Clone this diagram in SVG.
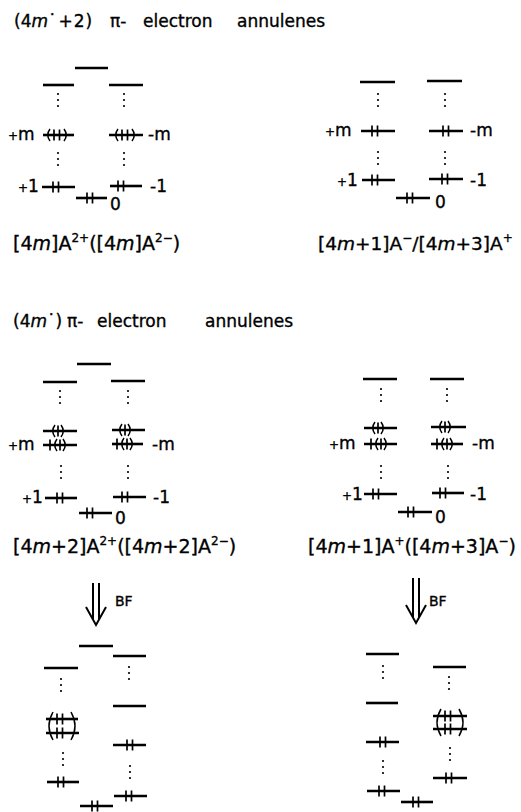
<svg xmlns="http://www.w3.org/2000/svg" xmlns:xlink="http://www.w3.org/1999/xlink" width="521" height="812" viewBox="0 0 521 812">
<style>
.lv{stroke:#000;stroke-width:2.6;fill:none}
.tk{stroke:#000;stroke-width:1.7;fill:none}
.pr{stroke:#000;stroke-width:1.5;fill:none}
.dt{fill:#000}
.ar{stroke:#000;stroke-width:2;fill:none}
text{font-family:"DejaVu Sans","Liberation Sans",sans-serif;fill:#000;stroke:#000;stroke-width:0.35}
.hd{font-size:17px}
.lb{font-size:19px}
.lb2{font-size:18.5px}
.sm{font-size:17px}
.i{font-style:italic}
.sup{font-size:12px}
.pl{font-size:12px}
.bf{font-size:14px}
</style>
<defs>
<line id="t" class="tk" x1="0" y1="-5.5" x2="0" y2="5.5"/>
<g id="p2"><use xlink:href="#t" x="0"/><use xlink:href="#t" x="5.5"/></g>
<path id="lp" class="pr" d="M2,-6 Q-2.5,0 2,6"/>
<path id="rp" class="pr" d="M-2,-6 Q2.5,0 -2,6"/>
<g id="d3" class="dt"><circle cx="0" cy="0" r="1.1"/><circle cx="0" cy="6" r="1.1"/><circle cx="0" cy="12" r="1.1"/></g>
</defs>
<rect width="521" height="812" fill="#fff"/>

<g id="header1">
<text class="hd" y="27"><tspan x="14">(4</tspan><tspan class="i">m</tspan><tspan>˙</tspan><tspan dx="2">+</tspan><tspan dx="1">2</tspan><tspan dx="1">)</tspan><tspan x="110">π-</tspan><tspan x="143">electron</tspan><tspan x="237">annulenes</tspan></text>
</g>

<g id="diagram-top-left">
<line class="lv" x1="75" y1="68" x2="108" y2="68"/>
<line class="lv" x1="43" y1="85" x2="74" y2="85"/>
<line class="lv" x1="109" y1="85" x2="143" y2="85"/>
<use xlink:href="#d3" x="58" y="94"/>
<use xlink:href="#d3" x="124" y="94"/>
<line class="lv" x1="43" y1="135" x2="74" y2="135"/>
<use xlink:href="#lp" x="48" y="135"/><use xlink:href="#p2" x="54" y="135"/><use xlink:href="#rp" x="66" y="135"/>
<line class="lv" x1="109" y1="135" x2="143" y2="135"/>
<use xlink:href="#lp" x="116" y="135"/><use xlink:href="#p2" x="122" y="135"/><use xlink:href="#rp" x="134" y="135"/>
<text class="sm" x="8" y="140"><tspan class="pl">+</tspan>m</text>
<text class="sm" x="148" y="140">-m</text>
<use xlink:href="#d3" x="58" y="153"/>
<use xlink:href="#d3" x="124" y="153"/>
<line class="lv" x1="42" y1="187" x2="75" y2="187"/>
<use xlink:href="#p2" x="53" y="187"/>
<text class="sm" x="18" y="192"><tspan class="pl">+</tspan>1</text>
<line class="lv" x1="110" y1="186" x2="142" y2="186"/>
<use xlink:href="#p2" x="118" y="186"/>
<text class="sm" x="150" y="192">-1</text>
<line class="lv" x1="76" y1="198" x2="107" y2="198"/>
<use xlink:href="#p2" x="87" y="198"/>
<text class="sm" x="110" y="210">0</text>
<text class="lb" x="13" y="250">[4<tspan class="i">m</tspan>]A<tspan class="sup" dy="-8">2+</tspan><tspan dy="8">([4</tspan><tspan class="i">m</tspan>]A<tspan class="sup" dy="-8">2−</tspan><tspan dy="8">)</tspan></text>
</g>

<g id="diagram-top-right">
<line class="lv" x1="360" y1="82" x2="395" y2="82"/>
<line class="lv" x1="427" y1="81" x2="462" y2="81"/>
<use xlink:href="#d3" x="378" y="94"/>
<use xlink:href="#d3" x="445" y="94"/>
<line class="lv" x1="361" y1="131" x2="395" y2="131"/>
<use xlink:href="#p2" x="372" y="131"/>
<line class="lv" x1="429" y1="131" x2="463" y2="131"/>
<use xlink:href="#p2" x="443" y="131"/>
<text class="sm" x="325" y="136"><tspan class="pl">+</tspan>m</text>
<text class="sm" x="470" y="136">-m</text>
<use xlink:href="#d3" x="378" y="152"/>
<use xlink:href="#d3" x="445" y="152"/>
<line class="lv" x1="362" y1="180" x2="395" y2="180"/>
<use xlink:href="#p2" x="372" y="180"/>
<text class="sm" x="337" y="186"><tspan class="pl">+</tspan>1</text>
<line class="lv" x1="429" y1="179" x2="463" y2="179"/>
<use xlink:href="#p2" x="442" y="179"/>
<text class="sm" x="470" y="186">-1</text>
<line class="lv" x1="396" y1="198" x2="430" y2="198"/>
<use xlink:href="#p2" x="407" y="198"/>
<text class="sm" x="435" y="208">0</text>
<text class="lb2" x="318" y="250">[4<tspan class="i">m</tspan>+1]A<tspan class="sup" dy="-8">−</tspan><tspan dy="8">/[4</tspan><tspan class="i">m</tspan>+3]A<tspan class="sup" dy="-8">+</tspan></text>
</g>

<g id="header2">
<text class="hd" y="327"><tspan x="13">(4</tspan><tspan class="i">m</tspan><tspan>˙)</tspan><tspan x="67">π-</tspan><tspan x="97">electron</tspan><tspan x="205">annulenes</tspan></text>
</g>

<g id="diagram-mid-left">
<line class="lv" x1="77" y1="364" x2="111" y2="364"/>
<line class="lv" x1="43" y1="382" x2="77" y2="382"/>
<line class="lv" x1="111" y1="381" x2="145" y2="381"/>
<use xlink:href="#d3" x="60" y="391"/>
<use xlink:href="#d3" x="128" y="391"/>
<line class="lv" x1="43" y1="431" x2="77" y2="431"/>
<use xlink:href="#lp" x="53" y="431"/><use xlink:href="#t" x="58" y="431"/><use xlink:href="#rp" x="63" y="431"/>
<line class="lv" x1="43" y1="445" x2="77" y2="445"/>
<use xlink:href="#t" x="50" y="445"/><use xlink:href="#lp" x="55" y="445"/><use xlink:href="#t" x="60" y="445"/><use xlink:href="#rp" x="65" y="445"/>
<line class="lv" x1="112" y1="430" x2="145" y2="430"/>
<use xlink:href="#lp" x="120" y="430"/><use xlink:href="#t" x="125" y="430"/><use xlink:href="#rp" x="130" y="430"/>
<line class="lv" x1="112" y1="444" x2="143" y2="444"/>
<use xlink:href="#t" x="117" y="444"/><use xlink:href="#lp" x="122" y="444"/><use xlink:href="#t" x="127" y="444"/><use xlink:href="#rp" x="132" y="444"/>
<text class="sm" x="8" y="450"><tspan class="pl">+</tspan>m</text>
<text class="sm" x="152" y="450">-m</text>
<use xlink:href="#d3" x="61" y="466"/>
<use xlink:href="#d3" x="128" y="466"/>
<line class="lv" x1="45" y1="498" x2="77" y2="498"/>
<use xlink:href="#p2" x="57" y="498"/>
<text class="sm" x="22" y="503"><tspan class="pl">+</tspan>1</text>
<line class="lv" x1="113" y1="497" x2="146" y2="497"/>
<use xlink:href="#p2" x="122" y="497"/>
<text class="sm" x="153" y="503">-1</text>
<line class="lv" x1="79" y1="513" x2="112" y2="513"/>
<use xlink:href="#p2" x="87" y="513"/>
<text class="sm" x="115" y="524">0</text>
<text class="lb" x="13" y="553">[4<tspan class="i">m</tspan>+2]A<tspan class="sup" dy="-8">2+</tspan><tspan dy="8">([4</tspan><tspan class="i">m</tspan>+2]A<tspan class="sup" dy="-8">2−</tspan><tspan dy="8">)</tspan></text>
</g>

<g id="diagram-mid-right">
<line class="lv" x1="363" y1="379" x2="397" y2="379"/>
<line class="lv" x1="430" y1="379" x2="464" y2="379"/>
<use xlink:href="#d3" x="381" y="389"/>
<use xlink:href="#d3" x="447" y="389"/>
<line class="lv" x1="364" y1="428" x2="397" y2="428"/>
<use xlink:href="#lp" x="373" y="428"/><use xlink:href="#t" x="378" y="428"/><use xlink:href="#rp" x="383" y="428"/>
<line class="lv" x1="364" y1="444" x2="397" y2="444"/>
<use xlink:href="#t" x="371" y="444"/><use xlink:href="#lp" x="376" y="444"/><use xlink:href="#t" x="381" y="444"/><use xlink:href="#rp" x="386" y="444"/>
<line class="lv" x1="431" y1="427" x2="466" y2="427"/>
<use xlink:href="#lp" x="440" y="427"/><use xlink:href="#t" x="445" y="427"/><use xlink:href="#rp" x="450" y="427"/>
<line class="lv" x1="431" y1="444" x2="463" y2="444"/>
<use xlink:href="#t" x="437" y="444"/><use xlink:href="#lp" x="442" y="444"/><use xlink:href="#t" x="447" y="444"/><use xlink:href="#rp" x="452" y="444"/>
<text class="sm" x="329" y="449"><tspan class="pl">+</tspan>m</text>
<text class="sm" x="472" y="449">-m</text>
<use xlink:href="#d3" x="381" y="466"/>
<use xlink:href="#d3" x="448" y="466"/>
<line class="lv" x1="364" y1="494" x2="397" y2="494"/>
<use xlink:href="#p2" x="373" y="494"/>
<text class="sm" x="342" y="500"><tspan class="pl">+</tspan>1</text>
<line class="lv" x1="432" y1="493" x2="464" y2="493"/>
<use xlink:href="#p2" x="440" y="493"/>
<text class="sm" x="470" y="500">-1</text>
<line class="lv" x1="398" y1="512" x2="432" y2="512"/>
<use xlink:href="#p2" x="408" y="512"/>
<text class="sm" x="435" y="523">0</text>
<text class="lb" x="308" y="553">[4<tspan class="i">m</tspan>+1]A<tspan class="sup" dy="-8">+</tspan><tspan dy="8">([4</tspan><tspan class="i">m</tspan>+3]A<tspan class="sup" dy="-8">−</tspan><tspan dy="8">)</tspan></text>
</g>

<g id="connectors">
<line class="ar" x1="93" y1="583" x2="93" y2="619"/>
<line class="ar" x1="99" y1="583" x2="99" y2="619"/>
<polyline class="ar" points="86,607 96,625 106,607"/>
<line class="ar" x1="413" y1="578" x2="413" y2="617"/>
<line class="ar" x1="419" y1="578" x2="419" y2="617"/>
<polyline class="ar" points="406,605 416,623 426,605"/>
</g>
<text class="bf" x="115" y="606">BF</text>
<text class="bf" x="429" y="606">BF</text>

<g id="diagram-bottom-left">
<line class="lv" x1="79" y1="646" x2="113" y2="646"/>
<line class="lv" x1="113" y1="656" x2="146" y2="656"/>
<line class="lv" x1="44" y1="668" x2="78" y2="668"/>
<use xlink:href="#d3" x="61" y="679"/>
<use xlink:href="#d3" x="129" y="667"/>
<line class="lv" x1="113" y1="706" x2="146" y2="706"/>
<line class="lv" x1="46" y1="719" x2="78" y2="719"/>
<line class="lv" x1="46" y1="733" x2="79" y2="733"/>
<path class="pr" d="M53,712 Q45,726 53,740"/>
<path class="pr" d="M71,712 Q79,726 71,740"/>
<use xlink:href="#p2" x="57" y="719"/>
<use xlink:href="#p2" x="57" y="733"/>
<line class="lv" x1="113" y1="745" x2="146" y2="745"/>
<use xlink:href="#p2" x="127" y="745"/>
<use xlink:href="#d3" x="63" y="753"/>
<use xlink:href="#d3" x="130" y="766"/>
<line class="lv" x1="47" y1="782" x2="79" y2="782"/>
<use xlink:href="#p2" x="58" y="782"/>
<line class="lv" x1="114" y1="796" x2="147" y2="796"/>
<use xlink:href="#p2" x="126" y="796"/>
<line class="lv" x1="80" y1="806" x2="113" y2="806"/>
<use xlink:href="#p2" x="92" y="806"/>
</g>

<g id="diagram-bottom-right">
<line class="lv" x1="366" y1="654" x2="399" y2="654"/>
<use xlink:href="#d3" x="383" y="666"/>
<line class="lv" x1="433" y1="667" x2="466" y2="667"/>
<use xlink:href="#d3" x="449" y="677"/>
<line class="lv" x1="366" y1="703" x2="398" y2="703"/>
<line class="lv" x1="433" y1="716" x2="467" y2="716"/>
<line class="lv" x1="433" y1="729" x2="467" y2="729"/>
<path class="pr" d="M441,709 Q433,722.5 441,736"/>
<path class="pr" d="M459,709 Q467,722.5 459,736"/>
<use xlink:href="#p2" x="445" y="716"/>
<use xlink:href="#p2" x="445" y="729"/>
<line class="lv" x1="366" y1="742" x2="399" y2="742"/>
<use xlink:href="#p2" x="380" y="742"/>
<use xlink:href="#d3" x="450" y="748"/>
<use xlink:href="#d3" x="383" y="761"/>
<line class="lv" x1="433" y1="778" x2="467" y2="778"/>
<use xlink:href="#p2" x="446" y="778"/>
<line class="lv" x1="367" y1="791" x2="400" y2="791"/>
<use xlink:href="#p2" x="379" y="791"/>
<line class="lv" x1="401" y1="802" x2="433" y2="802"/>
<use xlink:href="#p2" x="413" y="802"/>
</g>
</svg>
